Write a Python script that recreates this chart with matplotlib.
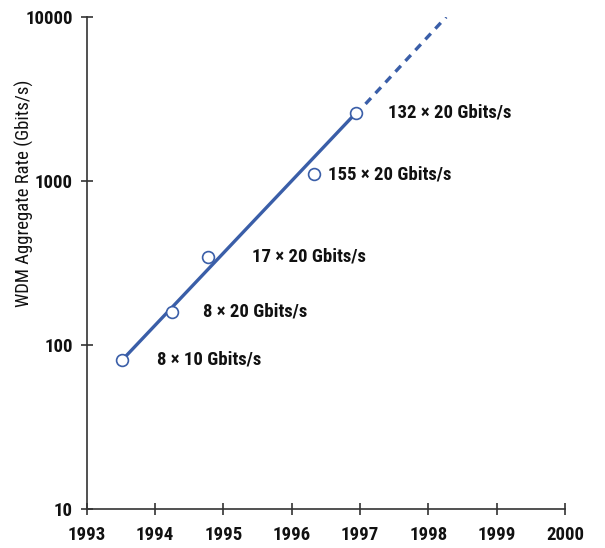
import matplotlib
matplotlib.use("Agg")
import matplotlib.pyplot as plt
import matplotlib.font_manager as fm
from matplotlib.ticker import FixedLocator, NullLocator

years = [1993.52, 1994.25, 1994.77, 1996.33, 1996.94]
rates = [81, 159, 344, 1100, 2600]
labels = ["8 × 10 Gbits/s", "8 × 20 Gbits/s", "17 × 20 Gbits/s",
          "155 × 20 Gbits/s", "132 × 20 Gbits/s"]
trend_years = [1993.52, 1996.94]
trend_rates = [81, 2600]
proj_years = [1997.08, 1998.26]
proj_rates = [2950, 10000]
x_ticks = [1993, 1994, 1995, 1996, 1997, 1998, 1999, 2000]
y_ticks = [10, 100, 1000, 10000]

names = {f.name for f in fm.fontManager.ttflist}
fam = [n for n in ["Roboto Condensed", "Archivo Narrow", "Asap Condensed", "Barlow Semi Condensed"] if n in names]
plt.rcParams['font.family'] = fam + ["DejaVu Sans"]

blue = "#3a5ea8"
dark = "#111111"
fs = 13.5
fig = plt.figure(figsize=(6.05, 5.48), dpi=100)
ax = fig.add_axes([0.1433, 0.0712, 0.7907, 0.8978])
ax.set_yscale("log")
ax.set_xlim(1993, 2000)
ax.set_ylim(10, 10000)

ax.plot(trend_years, trend_rates, color=blue, lw=2.4, solid_capstyle="butt", zorder=2)
ax.plot(proj_years, proj_rates, color=blue, lw=2.4, ls=(0, (2.4, 2.0)), zorder=2)
ax.plot(years, rates, ls="none", marker="o", ms=8.5, mfc="white", mec=blue, mew=1.2, zorder=3)

offsets = [(25, 0), (22, 0), (32, 0), (10, 0), (23, 0)]
for x, y, t, off in zip(years, rates, labels, offsets):
    ax.annotate(t, (x, y), xytext=off, textcoords="offset points",
                ha="left", va="center", fontsize=fs, fontweight="bold", color=dark)

for s in ["top", "right"]:
    ax.spines[s].set_visible(False)
for s in ["left", "bottom"]:
    ax.spines[s].set_color("#333333")
    ax.spines[s].set_linewidth(1.2)

ax.xaxis.set_major_locator(FixedLocator(x_ticks))
ax.yaxis.set_major_locator(FixedLocator(y_ticks))
ax.yaxis.set_minor_locator(NullLocator())
ax.set_xticklabels([str(v) for v in x_ticks])
ax.set_yticklabels([str(v) for v in y_ticks])
ax.tick_params(axis="both", which="major", direction="inout", length=9, width=1.2,
               color="#333333", labelsize=fs, labelcolor=dark)
ax.tick_params(axis="x", pad=8)
ax.tick_params(axis="y", pad=5.5)
for lab in ax.get_xticklabels() + ax.get_yticklabels():
    lab.set_fontweight("bold")

fig.text(24 / 605, 1 - 193 / 548, "WDM Aggregate Rate (Gbits/s)", rotation=90,
         ha="center", va="center", fontsize=fs, color=dark)

fig.savefig("out.png", dpi=100)
